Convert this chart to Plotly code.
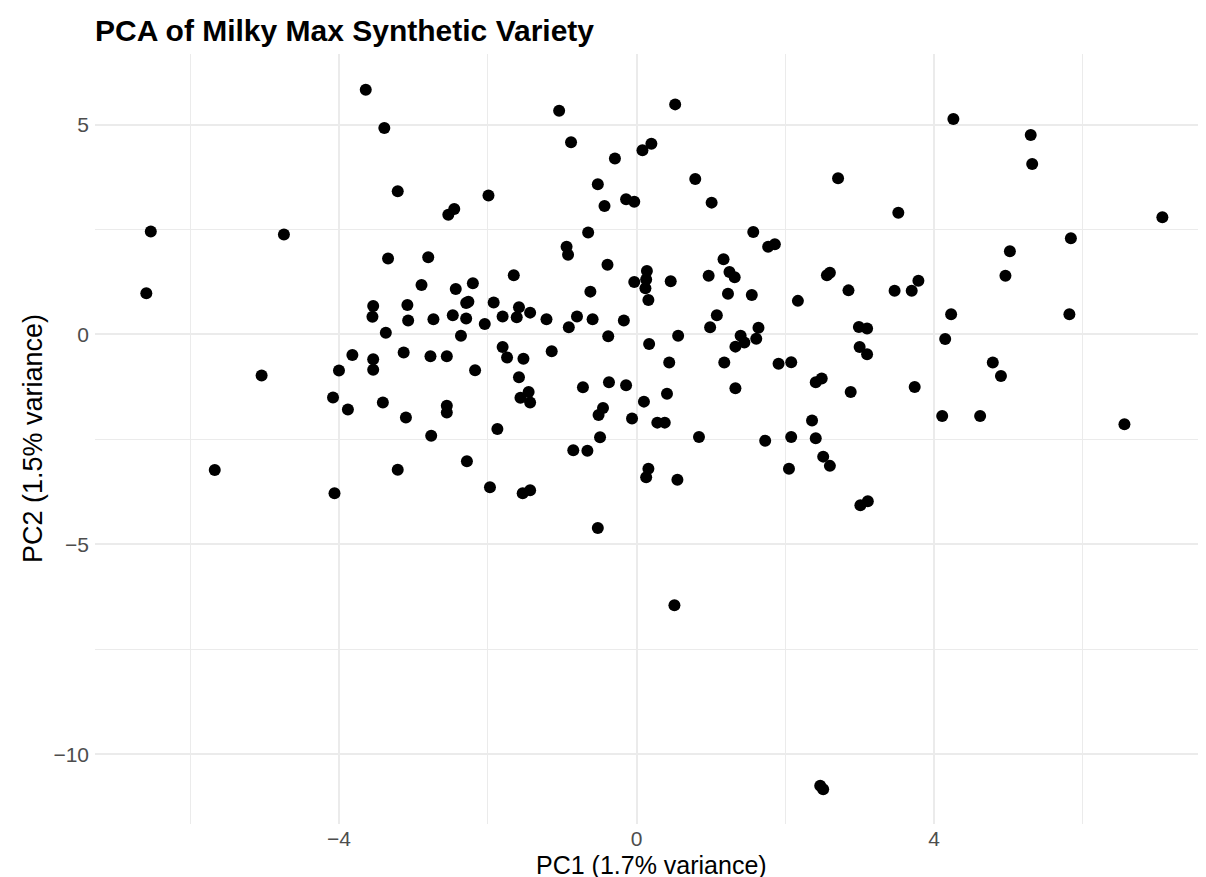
import plotly.graph_objects as go

pc1 = [-3.64, -3.39, -3.21, -6.53, -4.74, -3.34, -6.59, -3.54, -3.55, -3.08, -3.07, -3.37, -3.13,
       -1.04, 0.52, -0.88, 0.08, 0.20, -0.29, -0.52, 0.79, -1.99, -2.53, -2.45, -0.43, -0.14, -0.03,
       1.01, -0.65, -0.94, -0.92, -2.80, -0.39, -2.89, -2.43, -2.20, -1.65, -0.62, -0.03, 0.14, 0.13,
       0.12, 0.16, 0.46, 0.97, -2.73, -2.47, -2.29, -2.26, -2.29, -1.92, -2.04, -1.80, -1.58, -1.61,
       -1.43, -1.21, -0.91, -0.80, -0.59, -0.17, -2.36, -0.38, 0.17, 0.56, 0.99,
       4.26, 2.71, 3.52, 1.57, 1.77, 1.86, 1.17, 1.25, 1.32, 1.23, 1.55, 1.08, 2.17, 2.56, 2.60,
       2.85, 3.47, 3.70, 3.79, 4.96, 5.02, 4.23, 4.15, 1.64, 1.61, 1.40, 1.45, 1.33, 2.99, 3.10, 3.00,
       1.18, 1.33, 1.91, 2.08, 2.41, 2.49, 2.88, 3.10, 3.74, 4.79, 4.90, 4.11, 4.62, 2.36, 1.73, 2.08,
       2.41, 2.51, 2.60, 2.05, 3.01, 3.11,
       6.56, 5.30, 5.32, 7.07, 5.84, 5.82,
       -3.82, -3.54, -3.54, -4.00, -5.04, -4.08, -3.88, -3.41, -3.10, -5.67, -4.06, -3.21,
       -2.77, -2.55, -2.17, -1.80, -1.74, -1.52, -1.14, -1.58, -1.45, -1.56, -1.43, -0.72, -0.37,
       -0.14, 0.44, 0.41, 0.10, -0.45, -0.51, -0.06, 0.28, 0.38, -2.55, -2.55, -2.76, -1.87, -0.49,
       0.84, -0.85, -0.66, -2.28, 0.16, 0.13, 0.55, -1.97, -1.53, -1.43, -0.52,
       0.51, 2.47, 2.51]

pc2 = [5.83, 4.92, 3.41, 2.45, 2.38, 1.81, 0.98, 0.68, 0.42, 0.70, 0.33, 0.04, -0.43,
       5.33, 5.48, 4.58, 4.39, 4.54, 4.19, 3.58, 3.70, 3.31, 2.85, 2.99, 3.06, 3.22, 3.16,
       3.14, 2.43, 2.09, 1.90, 1.84, 1.66, 1.18, 1.08, 1.22, 1.41, 1.02, 1.25, 1.51, 1.31,
       1.10, 0.82, 1.27, 1.40, 0.36, 0.46, 0.75, 0.78, 0.38, 0.76, 0.25, 0.43, 0.65, 0.41,
       0.52, 0.36, 0.17, 0.43, 0.36, 0.33, -0.03, -0.04, -0.23, -0.03, 0.17,
       5.13, 3.72, 2.90, 2.44, 2.09, 2.15, 1.79, 1.49, 1.36, 0.97, 0.94, 0.46, 0.80, 1.41, 1.47,
       1.05, 1.04, 1.04, 1.28, 1.40, 1.98, 0.48, -0.11, 0.16, -0.10, -0.03, -0.19, -0.29, 0.18, 0.14, -0.30,
       -0.67, -1.28, -0.70, -0.66, -1.14, -1.05, -1.37, -0.47, -1.25, -0.67, -0.99, -1.94, -1.94, -2.05, -2.53, -2.44,
       -2.47, -2.91, -3.13, -3.20, -4.07, -3.97,
       -2.14, 4.75, 4.06, 2.79, 2.29, 0.48,
       -0.49, -0.59, -0.84, -0.86, -0.98, -1.50, -1.79, -1.62, -1.98, -3.23, -3.78, -3.22,
       -0.52, -0.52, -0.85, -0.30, -0.55, -0.58, -0.40, -1.02, -1.37, -1.51, -1.62, -1.26, -1.14,
       -1.21, -0.67, -1.41, -1.60, -1.75, -1.92, -2.00, -2.10, -2.10, -1.70, -1.86, -2.41, -2.25, -2.45,
       -2.44, -2.76, -2.77, -3.02, -3.20, -3.40, -3.46, -3.64, -3.78, -3.71, -4.61,
       -6.45, -10.75, -10.83]

title_text = "PCA of Milky Max Synthetic Variety"
x_title = "PC1 (1.7% variance)"
y_title = "PC2 (1.5% variance)"

FONT = "Liberation Sans, Arial, sans-serif"

fig = go.Figure()
fig.add_trace(go.Scatter(
    x=pc1, y=pc2, mode="markers",
    marker=dict(color="black", size=12, line=dict(width=0)),
    hoverinfo="x+y", showlegend=False,
))

W, H = 1206, 877
ml, mr, mt, mb = 87, 7, 46, 61

fig.update_layout(
    width=W, height=H,
    margin=dict(l=ml, r=mr, t=mt, b=mb),
    paper_bgcolor="white", plot_bgcolor="white",
    font=dict(family=FONT, color="black"),
    xaxis=dict(
        range=[-7.28, 7.67], tick0=0, dtick=4, showgrid=True,
        gridcolor="#ebebeb", gridwidth=2, zeroline=False, showline=False,
        ticks="", tickfont=dict(size=21, color="#4d4d4d"),
        minor=dict(dtick=2, tick0=0, showgrid=True, gridcolor="#ebebeb", gridwidth=1),
        ticklabelstandoff=0,
    ),
    yaxis=dict(
        range=[-11.66, 6.68], tick0=0, dtick=5, showgrid=True,
        gridcolor="#ebebeb", gridwidth=2, zeroline=False, showline=False,
        ticks="", tickfont=dict(size=21, color="#4d4d4d"),
        minor=dict(dtick=2.5, tick0=0, showgrid=True, gridcolor="#ebebeb", gridwidth=1),
        ticklabelstandoff=5,
    ),
    annotations=[
        dict(text="<b>" + title_text + "</b>", xref="paper", yref="paper",
             x=0, xshift=-2, y=1, yshift=24, xanchor="left", yanchor="middle",
             showarrow=False, font=dict(size=30, color="black", family=FONT)),
        dict(text=x_title, xref="paper", yref="paper",
             x=0.5, y=0, yshift=-41, xanchor="center", yanchor="middle",
             showarrow=False, font=dict(size=25, color="black", family=FONT)),
        dict(text=y_title, xref="paper", yref="paper", textangle=-90,
             x=0, xshift=-(ml - 25), y=0.5, xanchor="center", yanchor="middle",
             showarrow=False, font=dict(size=27, color="black", family=FONT)),
    ],
)

fig.write_html("out.html")
